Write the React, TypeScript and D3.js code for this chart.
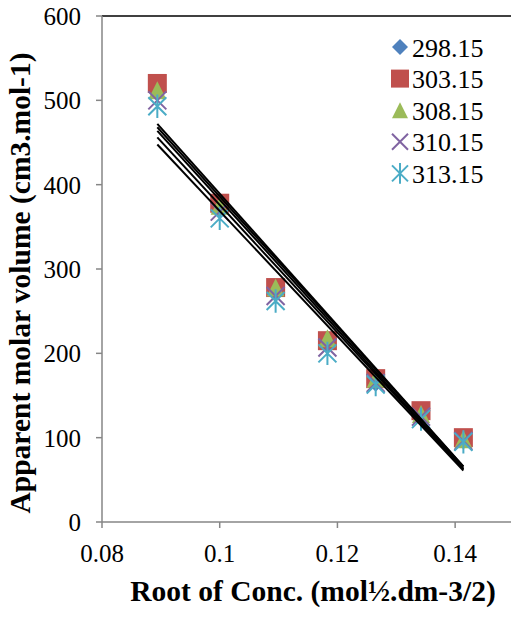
import React from 'react';
import * as d3 from 'd3';

// sqrt of concentration
const xs = [0.0894, 0.1, 0.1095, 0.1183, 0.1265, 0.1342, 0.1414];
const temps = ['298.15', '303.15', '308.15', '310.15', '313.15'];
const v298 = [510, 372, 272, 212, 165, 128, 97];
const v303 = [520, 378, 278, 215, 170, 132, 100];
const v308 = [512, 375, 278, 218, 170, 128, 98];
const v310 = [500, 368, 268, 207, 165, 125, 96];
const v313 = [493, 360, 262, 200, 163, 122, 95];
const xTicks = [0.08, 0.1, 0.12, 0.14];
const yTicks = [0, 100, 200, 300, 400, 500, 600];

const series = [
  { name: temps[0], values: v298, shape: 'diamond', color: '#4F81BD' },
  { name: temps[1], values: v303, shape: 'square', color: '#C0504D' },
  { name: temps[2], values: v308, shape: 'triangle', color: '#9BBB59' },
  { name: temps[3], values: v310, shape: 'x', color: '#8064A2' },
  { name: temps[4], values: v313, shape: 'star', color: '#4BACC6' },
];

const font = { fontFamily: 'Liberation Serif, Times New Roman, DejaVu Serif, serif' };

const marker = (shape: string, r: number) => {
  switch (shape) {
    case 'diamond':
      return `M0,${-r}L${r},0L0,${r}L${-r},0Z`;
    case 'square':
      return `M${-r},${-r}H${r}V${r}H${-r}Z`;
    case 'triangle':
      return `M0,${-r}L${r},${r}L${-r},${r}Z`;
    case 'x':
      return `M${-r},${-r}L${r},${r}M${r},${-r}L${-r},${r}`;
    default:
      return `M${-r},${-r}L${r},${r}M${r},${-r}L${-r},${r}M0,${-r * 1.3}V${r * 1.3}`;
  }
};

const fit = (x: number[], y: number[]) => {
  const mx = d3.mean(x) as number;
  const my = d3.mean(y) as number;
  const sxy = d3.sum(x, (d, i) => (d - mx) * (y[i] - my));
  const sxx = d3.sum(x, (d) => (d - mx) ** 2);
  const b = sxy / sxx;
  return (v: number) => my + b * (v - mx);
};

const App = () => {
  const width = 511;
  const height = 619;
  const left = 102;
  const top = 16;
  const bottom = 522;

  const x = d3.scaleLinear().domain([0.08, 0.15]).range([left, 514]);
  const y = d3.scaleLinear().domain([0, 600]).range([bottom, top]);
  const [x0, x1] = d3.extent(xs) as [number, number];

  return (
    <svg width={width} height={height} style={{ position: 'absolute', left: 0, top: 0 }}>
      <rect width={width} height={height} fill="#fff" />
      {/* top border */}
      <line x1={left} x2={width} y1={top} y2={top} stroke="#000" strokeWidth={1.5} />
      {/* axes */}
      <line x1={left} x2={left} y1={top} y2={bottom} stroke="#868686" strokeWidth={1.5} />
      <line x1={left} x2={width} y1={bottom} y2={bottom} stroke="#868686" strokeWidth={1.5} />
      {yTicks.map((t) => (
        <g key={t}>
          <line x1={left - 6} x2={left} y1={y(t)} y2={y(t)} stroke="#868686" strokeWidth={1.5} />
          <text x={81} y={y(t) + 9} textAnchor="end" style={font} fontSize={25}>
            {t}
          </text>
        </g>
      ))}
      {xTicks.map((t) => (
        <g key={t}>
          <line x1={x(t)} x2={x(t)} y1={bottom} y2={bottom + 6} stroke="#868686" strokeWidth={1.5} />
          <text x={x(t)} y={562} textAnchor="middle" style={font} fontSize={25}>
            {t}
          </text>
        </g>
      ))}
      {/* markers */}
      {series.map((s) => (
        <g key={s.name}>
          {s.values.map((v, i) => (
            <path
              key={i}
              transform={`translate(${x(xs[i])},${y(v)})`}
              d={marker(s.shape, s.shape === 'square' ? 9.5 : 9)}
              fill={s.shape === 'x' || s.shape === 'star' ? 'none' : s.color}
              stroke={s.shape === 'x' || s.shape === 'star' ? s.color : 'none'}
              strokeWidth={2}
            />
          ))}
        </g>
      ))}
      {/* linear trendlines */}
      {series.map((s) => {
        const f = fit(xs, s.values);
        return (
          <line
            key={s.name}
            x1={x(x0)}
            x2={x(x1)}
            y1={y(f(x0))}
            y2={y(f(x1))}
            stroke="#000"
            strokeWidth={2}
          />
        );
      })}
      {/* legend */}
      {series.map((s, i) => {
        const ly = 47 + i * 31.6;
        return (
          <g key={s.name} transform={`translate(400,${ly})`}>
            <path
              d={marker(s.shape, s.shape === 'square' ? 9 : 8)}
              fill={s.shape === 'x' || s.shape === 'star' ? 'none' : s.color}
              stroke={s.shape === 'x' || s.shape === 'star' ? s.color : 'none'}
              strokeWidth={2}
            />
            <text x={12} y={9.5} style={font} fontSize={26}>
              {s.name}
            </text>
          </g>
        );
      })}
      {/* axis titles */}
      <text x={313} y={601} textAnchor="middle" style={font} fontSize={29.5} fontWeight="bold">
        Root of Conc. (mol½.dm-3/2)
      </text>
      <text
        transform="translate(30,283) rotate(-90)"
        textAnchor="middle"
        style={font}
        fontSize={29.5}
        fontWeight="bold"
      >
        Apparent molar volume (cm3.mol-1)
      </text>
    </svg>
  );
};

export default App;
